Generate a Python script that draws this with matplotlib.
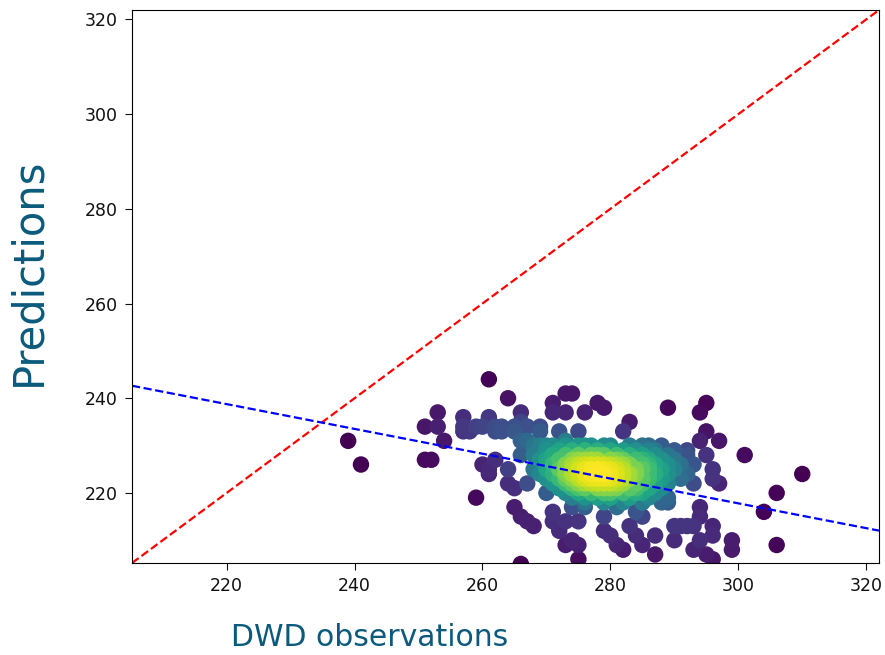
import matplotlib
matplotlib.use("Agg")
import matplotlib.pyplot as plt
import numpy as np

# DWD observations (x) and predictions (y)
outer_obs = [239, 241, 251, 252, 253, 251, 253, 254, 261, 264, 259, 266,
             257, 261, 266, 271, 271, 273,
             257, 259, 260, 262, 263, 265, 266, 267, 269,
             257, 258, 262, 263, 265, 269, 272,
             266, 267, 270, 260, 262, 266, 264, 261,
             261, 264, 265, 267, 265, 266, 267, 268, 271, 271, 272, 273,
             273, 272,
             274, 276, 275, 273, 274, 275, 275, 279, 279, 280, 281, 282, 283, 284,
             285, 287, 287, 281, 284, 285, 285, 289, 290, 291, 290,
             292, 293, 296, 297, 294, 294, 292, 293, 296, 296, 294, 293, 295, 296,
             299, 299, 304, 306, 306, 310,
             295, 294, 295, 297, 294, 301, 292, 295, 293, 296, 291,
             274, 278, 279, 276, 289, 283, 282, 275, 273, 273]
outer_pred = [231, 226, 227, 227, 237, 234, 234, 231, 244, 240, 219, 205,
              236, 236, 237, 239, 237, 241,
              234, 234, 234, 234, 234, 234, 235, 234, 234,
              233, 233, 233, 233, 233, 233, 233,
              231, 231, 230, 226, 227, 228, 225, 225,
              224, 222, 221, 222, 217, 215, 214, 213, 216, 214, 212, 209,
              224, 221,
              217, 217, 214, 214, 210, 209, 206, 215, 212, 211, 209, 208, 213, 211,
              209, 207, 211, 217, 216, 215, 218, 218, 213, 213, 210,
              224, 222, 223, 222, 217, 215, 213, 213, 213, 211, 210, 208, 207, 206,
              210, 208, 216, 220, 209, 224,
              239, 237, 233, 231, 231, 228, 229, 228, 226, 225, 226,
              241, 239, 238, 237, 238, 235, 233, 233, 237, 231]

# dense core, one list of observations per prediction value
core_rows = {
    230: [268, 269, 271, 273, 275, 276, 277, 279, 280, 283, 285, 286, 288],
    229: [270, 272, 274, 276, 278, 280, 282, 284, 286, 287, 290],
    228: [268, 271, 273, 275, 277, 278, 279, 281, 283, 285, 287, 289, 292],
    227: [269, 270, 272, 274, 275, 276, 277, 278, 280, 281, 282, 284, 285, 286, 288, 290],
    226: [270, 271, 273, 274, 275, 276, 277, 278, 279, 280, 281, 282, 283, 285, 286, 287, 289],
    225: [268, 270, 272, 273, 274, 275, 276, 277, 278, 279, 280, 281, 282, 284, 285, 286, 288, 290],
    224: [269, 271, 273, 274, 275, 276, 277, 278, 279, 280, 281, 282, 283, 284, 286, 287, 289],
    223: [270, 272, 273, 274, 275, 276, 277, 278, 279, 280, 281, 282, 283, 285, 286, 288, 291],
    222: [271, 273, 274, 275, 276, 277, 278, 279, 280, 281, 282, 284, 285, 287, 289],
    221: [272, 274, 275, 276, 278, 279, 280, 281, 283, 284, 286, 288],
    220: [270, 273, 275, 277, 279, 280, 282, 284, 285, 287],
    219: [274, 276, 278, 280, 283, 286, 289],
    218: [276, 279, 282, 285, 288],
}

# regression line and axis limits as seen in the picture
fit_slope = -0.262
fit_intercept = 296.4
lims = [205.2, 322.0]
ticks = [220, 240, 260, 280, 300, 320]

obs = list(outer_obs)
pred = list(outer_pred)
for p, xs in core_rows.items():
    obs += xs
    pred += [p] * len(xs)
obs = np.array(obs, dtype=float)
pred = np.array(pred, dtype=float)

# gaussian kde (scott bandwidth) for the point colours
xy = np.vstack([obs, pred])
n = xy.shape[1]
cov = np.cov(xy) * n ** (-2.0 / 6.0)
inv = np.linalg.inv(cov)
d = xy[:, :, None] - xy[:, None, :]
dens = np.exp(-0.5 * np.einsum("ijk,il,ljk->jk", d, inv, d)).sum(axis=1)
order = dens.argsort()

fig = plt.figure(figsize=(8.85, 6.55), dpi=100)
ax = fig.add_axes([132 / 885, 1 - 563 / 655, 747 / 885, 553 / 655])

ax.scatter(obs[order], pred[order], c=dens[order], cmap="viridis", s=140, linewidths=0)
ax.plot(lims, lims, color="red", linestyle="--", linewidth=1.6)
xline = np.array(lims)
ax.plot(xline, fit_intercept + fit_slope * xline, color="blue", linestyle="--", linewidth=1.6)

ax.set_xlim(lims)
ax.set_ylim(lims)
ax.set_xticks(ticks)
ax.set_yticks(ticks)
ax.tick_params(labelsize=12.5, length=5, pad=5, colors="#111111")

label_color = "#0b5a7c"
ax.set_xlabel("DWD observations", fontsize=21.5, color=label_color)
ax.xaxis.set_label_coords(238 / 747, -0.108)
ax.set_ylabel("Predictions", fontsize=30, color=label_color)
ax.yaxis.set_label_coords(-0.11, 0.526)

plt.savefig("out.png", dpi=100)
